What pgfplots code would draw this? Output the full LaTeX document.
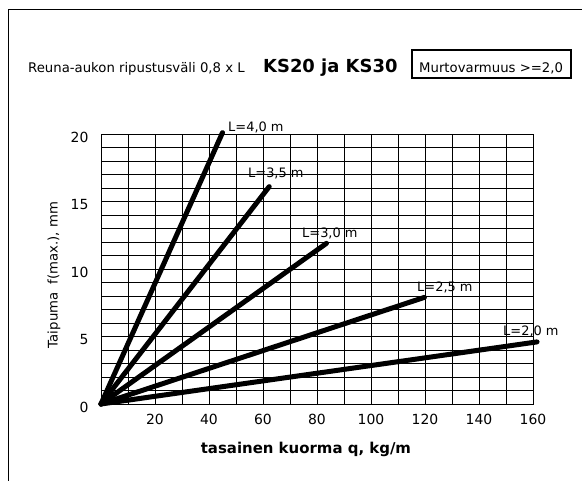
\documentclass[border=0pt]{standalone}
\usepackage{fontspec}
\setmainfont{DejaVu Sans}
\usepackage{pgfplots}
\pgfplotsset{compat=1.18}
\begin{document}
\begin{tikzpicture}
\path[use as bounding box] (0,0) rectangle (582bp,481bp);
\draw[line width=1bp] (8bp,0) -- (8bp,471bp) -- (582bp,471bp);
\node[anchor=base west, inner sep=0, font=\fontsize{13.3}{15}\selectfont] at (28bp,408bp) {Reuna-aukon ripustusväli 0,8 x L};
\node[anchor=base west, inner sep=0, font=\fontsize{18}{20}\selectfont\bfseries] at (263bp,408.5bp) {KS20 ja KS30};
\draw[line width=2bp] (412bp,403bp) rectangle (571bp,431bp);
\node[anchor=base west, inner sep=0, font=\fontsize{13.3}{15}\selectfont] at (419bp,408bp) {Murtovarmuus >=2,0};
\begin{axis}[at={(101bp,77bp)}, anchor=south west, scale only axis,
  width=432bp, height=270bp,
  xmin=0, xmax=160, ymin=0, ymax=20, clip=false,
  xtick={20,40,...,160}, minor xtick={10,30,...,150},
  ytick={0,5,...,20}, minor ytick={1,2,3,4,6,7,8,9,11,12,13,14,16,17,18,19},
  grid=both,
  major grid style={black, line width=0.9bp},
  minor grid style={black, line width=0.9bp},
  axis line style={line width=0.9bp},
  major tick length=0, minor tick length=0,
  tick label style={font=\fontsize{14}{16}\selectfont},
  /pgf/number format/assume math mode=true,
  xticklabel style={yshift=-7bp},
  yticklabel style={xshift=-9bp, yshift=-3bp},
  xlabel={tasainen kuorma q, kg/m},
  xlabel style={at={(axis cs:75.9,-3.63)}, anchor=base, font=\fontsize{15}{17}\selectfont\bfseries},
  ylabel={Taipuma\ \ f(max.), mm},
  ylabel style={at={(axis cs:-16.1,9.56)}, anchor=base, font=\fontsize{13.3}{15}\selectfont},
]
\addplot[black, line width=5bp, line cap=round] coordinates {(0,0) (45,20.1)};
\addplot[black, line width=5bp, line cap=round] coordinates {(0,0) (62.3,16.1)};
\addplot[black, line width=5bp, line cap=round] coordinates {(0,0) (83.5,11.9)};
\addplot[black, line width=5bp, line cap=round] coordinates {(0,0) (119.8,7.9)};
\addplot[black, line width=5bp, line cap=round] coordinates {(0,0) (161.5,4.6)};
\node[anchor=base west, inner sep=0, font=\fontsize{13}{15}\selectfont] at (axis cs:47.04,20.22) {L=4,0 m};
\node[anchor=base west, inner sep=0, font=\fontsize{13}{15}\selectfont] at (axis cs:54.44,16.81) {L=3,5 m};
\node[anchor=base west, inner sep=0, font=\fontsize{13}{15}\selectfont] at (axis cs:74.44,12.30) {L=3,0 m};
\node[anchor=base west, inner sep=0, font=\fontsize{13}{15}\selectfont] at (axis cs:117.04,8.37) {L=2,5 m};
\node[anchor=base west, inner sep=0, font=\fontsize{13}{15}\selectfont] at (axis cs:148.9,5.11) {L=2,0 m};
\end{axis}
\end{tikzpicture}
\end{document}
